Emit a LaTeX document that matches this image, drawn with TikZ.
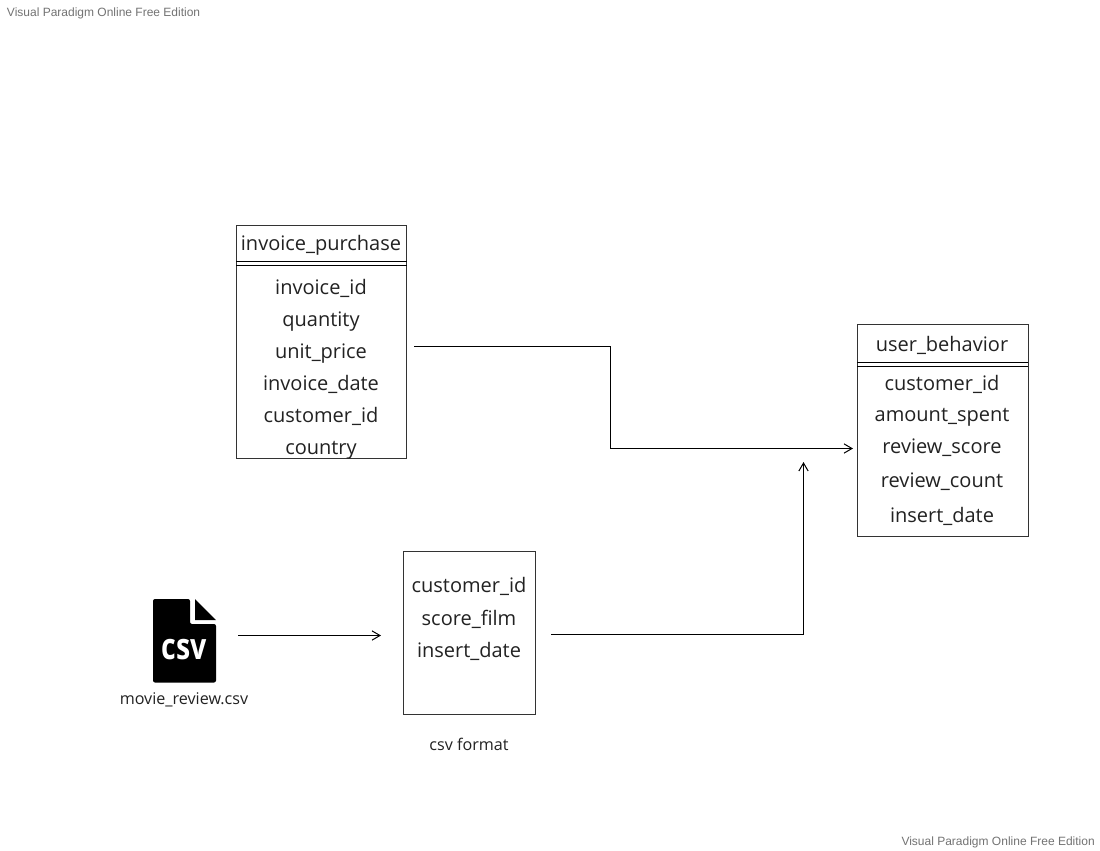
\documentclass[tikz,border=0pt]{standalone}
\usepackage{fontspec}
\setmainfont{Open Sans}
\newfontfamily\wmfont{Liberation Sans}
\usetikzlibrary{arrows.meta}
\definecolor{ink}{HTML}{222222}
\tikzset{
  x=0.75pt,y=-0.75pt,
  tbl/.style={draw=black!80,line width=0.75pt,fill=white,inner sep=0pt,anchor=north west},
  rowtext/.style={text=ink,font=\fontsize{15}{18}\selectfont,inner sep=0pt,anchor=center,text height=14pt,text depth=3.5pt},
  smalltext/.style={text=ink,font=\fontsize{12.1}{14}\selectfont,inner sep=0pt,anchor=center,text height=11pt,text depth=3pt},
  wm/.style={text=black!55,font=\wmfont\fontsize{9}{11}\selectfont,inner sep=0pt},
  dbl/.style={black,line width=0.75pt},
  link/.style={black,line width=0.75pt,-{Straight Barb[length=6pt,width=7.5pt,angle'=60]}},
}
\begin{document}
\begin{tikzpicture}
\useasboundingbox (0,0) rectangle (1100,850);
\fill[white] (0,0) rectangle (1100,850);
\node[wm,anchor=west] (wmtop) at (6.7,13) {Visual Paradigm Online Free Edition};
\node[wm,anchor=east] (wmbot) at (1095,842) {Visual Paradigm Online Free Edition};

% invoice_purchase
\node[tbl,minimum width=127.5pt,minimum height=174.75pt] (inv) at (236,225) {};
\draw[dbl] (236,261) -- (406.5,261) (236,265.5) -- (406.5,265.5);
\node[rowtext] (i0) at (321,243) {invoice\_purchase};
\node[rowtext] (i1) at (321,287) {invoice\_id};
\node[rowtext] (i2) at (321,319) {quantity};
\node[rowtext] (i3) at (321,351) {unit\_price};
\node[rowtext] (i4) at (321,383) {invoice\_date};
\node[rowtext] (i5) at (321,415) {customer\_id};
\node[rowtext] (i6) at (321,447) {country};

% user_behavior
\node[tbl,minimum width=128.25pt,minimum height=159pt] (usr) at (857,324) {};
\draw[dbl] (857,362) -- (1028,362) (857,366.5) -- (1028,366.5);
\node[rowtext] (u0) at (942,344) {user\_behavior};
\node[rowtext] (u1) at (942,383) {customer\_id};
\node[rowtext] (u2) at (942,414) {amount\_spent};
\node[rowtext] (u3) at (942,446) {review\_score};
\node[rowtext] (u4) at (942,480) {review\_count};
\node[rowtext] (u5) at (942,515) {insert\_date};

% csv format box
\node[tbl,minimum width=99pt,minimum height=122.25pt] (fmt) at (403,551) {};
\node[rowtext] (f1) at (469,585) {customer\_id};
\node[rowtext] (f2) at (469,618) {score\_film};
\node[rowtext] (f3) at (469,650) {insert\_date};
\node[smalltext] (fcap) at (469,745) {csv format};

% csv icon
\fill[black,rounded corners=1.5pt] (153,599) -- (190,599) -- (190,624) -- (216,624) -- (216,682.5) -- (153,682.5) -- cycle;
\fill[black] (195,599) -- (216,620) -- (195,620) -- cycle;
\node[text=white,inner sep=0pt,font=\bfseries\fontsize{21}{24}\selectfont] (csvtxt) at (184.5,650) {\scalebox{1.02}[1.3]{csv}};
\node[smalltext] (csvname) at (184,699) {movie\_review.csv};

% connectors
\coordinate (a1) at (414,346.5);
\coordinate (a1m) at (610,346.5);
\coordinate (a1n) at (610,448.5);
\coordinate (a1e) at (853,448.5);
\draw[link] (a1) -- (a1m) -- (a1n) -- (a1e);
\coordinate (a2) at (238,635.5);
\coordinate (a2e) at (381,635.5);
\draw[link] (a2) -- (a2e);
\coordinate (a3) at (551,634.5);
\coordinate (a3m) at (803.5,634.5);
\coordinate (a3e) at (803.5,462);
\draw[link] (a3) -- (a3m) -- (a3e);
\end{tikzpicture}
\end{document}
